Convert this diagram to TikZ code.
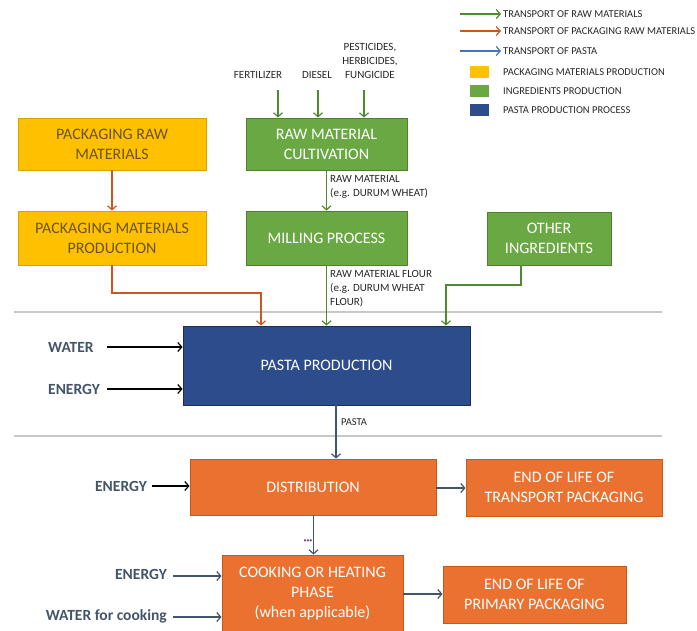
\documentclass[tikz,border=0pt]{standalone}
\usepackage{fontspec}
\setmainfont{Carlito}
\usepackage{xcolor}
\usetikzlibrary{arrows.meta,positioning,calc}

\definecolor{amber}{HTML}{FFC000}
\definecolor{amberline}{HTML}{D9A300}
\definecolor{ambertext}{HTML}{6B5420}
\definecolor{leaf}{HTML}{6AA843}
\definecolor{leafline}{HTML}{4E8030}
\definecolor{leafarrow}{HTML}{4E8A2E}
\definecolor{navy}{HTML}{2C4C8C}
\definecolor{navyline}{HTML}{1B2E55}
\definecolor{carrot}{HTML}{EA7130}
\definecolor{carrotline}{HTML}{C55A1B}
\definecolor{rust}{HTML}{C9571E}
\definecolor{slate}{HTML}{44546A}
\definecolor{pastablue}{HTML}{4472C4}
\definecolor{plum}{HTML}{7030A0}

\begin{document}
\begin{tikzpicture}[x=1pt, y=-1pt,
    box/.style={draw, line width=0.9pt, align=center, inner sep=2pt, font=\fontsize{16}{20}\selectfont},
    pack/.style={box, fill=amber, draw=amberline, text=ambertext},
    crop/.style={box, fill=leaf, draw=leafline, text=white},
    plant/.style={box, fill=navy, draw=navyline, text=white},
    life/.style={box, fill=carrot, draw=carrotline, text=white},
    small/.style={font=\fontsize{10.5}{14}\selectfont, text=black!85, align=left, inner sep=0pt},
    note/.style={small, font=\fontsize{11}{14}\selectfont},
    inlabel/.style={font=\bfseries\fontsize{15.5}{18}\selectfont, text=slate, inner sep=0pt},
    tip/.style={-{Straight Barb[length=4pt,width=9pt,line width=1.2pt]}, line width=1.4pt},
    greenflow/.style={tip, draw=leafarrow},
    orangeflow/.style={tip, draw=rust},
    darkflow/.style={tip, draw=slate},
    blackflow/.style={tip, draw=black}]
    \useasboundingbox (0,0) rectangle (697,630);

    % legend
    \foreach \y/\col/\txt in {14/leafarrow/TRANSPORT OF RAW MATERIALS,
                              31/rust/TRANSPORT OF PACKAGING RAW MATERIALS,
                              51/pastablue/TRANSPORT OF PASTA} {
        \draw[tip, draw=\col] (460,\y) -- (501,\y);
        \node[small, anchor=west] at (503,\y) {\txt};
    }
    \foreach \y/\col/\txt in {72/amber/PACKAGING MATERIALS PRODUCTION,
                              91/leaf/INGREDIENTS PRODUCTION,
                              110/navy/PASTA PRODUCTION PROCESS} {
        \fill[\col] (470,\y-6) rectangle (489,\y+6);
        \node[small, anchor=west] at (503,\y) {\txt};
    }

    % separators
    \draw[black!22, line width=2.5pt] (14,312) -- (662,312);
    \draw[black!22, line width=2.5pt] (14,436) -- (662,436);

    % boxes
    \node[pack, minimum width=188pt, minimum height=52pt] (pkgraw) at (112,144) {PACKAGING RAW\\MATERIALS};
    \node[pack, minimum width=188pt, minimum height=54pt] (pkgprod) at (112,238) {PACKAGING MATERIALS\\PRODUCTION};
    \node[crop, minimum width=161pt, minimum height=52pt] (cult) at (326.5,144) {RAW MATERIAL\\CULTIVATION};
    \node[crop, minimum width=161pt, minimum height=54pt] (mill) at (326.5,238) {MILLING PROCESS};
    \node[crop, minimum width=124pt, minimum height=53pt] (other) at (549,238.5) {OTHER\\INGREDIENTS};
    \node[plant, minimum width=287pt, minimum height=79pt] (pasta) at (326.5,365.5) {PASTA PRODUCTION};
    \node[life, minimum width=246pt, minimum height=56pt] (distr) at (313,487) {DISTRIBUTION};
    \node[life, minimum width=196pt, minimum height=57pt] (eolt) at (564,487.5) {END OF LIFE OF\\TRANSPORT PACKAGING};
    \node[life, minimum width=181pt, minimum height=78pt] (cook) at (312.5,594) {COOKING OR HEATING\\PHASE\\(when applicable)};
    \node[life, minimum width=183pt, minimum height=57pt] (eolp) at (534.5,594.5) {END OF LIFE OF\\PRIMARY PACKAGING};

    % cultivation inputs
    \node[note, anchor=base] (fert) at (258,78) {FERTILIZER};
    \node[note, anchor=base] (diesel) at (317,78) {DIESEL};
    \node[note, anchor=base, align=center] (pest) at (370,78) {PESTICIDES,\\HERBICIDES,\\FUNGICIDE};
    \draw[greenflow] (278,90) -- (278,0 |- cult.north);
    \draw[greenflow] (318,90) -- (318,0 |- cult.north);
    \draw[greenflow] (364,90) -- (364,0 |- cult.north);

    % raw material flows
    \draw[greenflow] (cult.south) -- (mill.north);
    \node[note, anchor=north west] (rawlbl) at (330,175) {RAW MATERIAL\\(e.g. DURUM WHEAT)};
    \draw[greenflow] (mill.south) -- (mill.south |- pasta.north);
    \node[note, anchor=north west] (flourlbl) at (330,270) {RAW MATERIAL FLOUR\\(e.g. DURUM WHEAT\\FLOUR)};
    \draw[greenflow] (521,265) |- (446,285) -- (446,0 |- pasta.north);

    % packaging flows
    \draw[orangeflow] (pkgraw.south) -- (pkgprod.north);
    \draw[orangeflow] (pkgprod.south) |- (261,293) -- (261,0 |- pasta.north);

    % pasta production inputs
    \node[inlabel, anchor=west] (water1) at (48,347) {WATER};
    \node[inlabel, anchor=west] (energy1) at (48,389) {ENERGY};
    \draw[blackflow] (107,347) -- (pasta.west |- water1);
    \draw[blackflow] (107,389) -- (pasta.west |- energy1);
    \draw[darkflow] (pasta.south -| 336,0) -- (336,0 |- distr.north);
    \node[small, anchor=west] (pastalbl) at (341,422) {PASTA};

    % distribution and use
    \node[inlabel, anchor=east] (energy2) at (147,486) {ENERGY};
    \draw[blackflow] (152,486) -- (distr.west |- energy2);
    \draw[darkflow] (distr.east |- 0,488) -- (eolt.west |- 0,488);
    \draw[darkflow] (313.5,515) -- (313.5,0 |- cook.north);
    \node[font=\fontsize{6}{6}\selectfont, text=plum, inner sep=0pt] (dots) at (308,541) {•••};
    \node[inlabel, anchor=east] (energy3) at (167,574) {ENERGY};
    \node[inlabel, anchor=east] (water2) at (167,616) {WATER for cooking};
    \draw[darkflow] (173,576) -- (cook.west |- 0,576);
    \draw[darkflow] (173,617) -- (cook.west |- 0,617);
    \draw[darkflow] (cook.east |- 0,594) -- (eolp.west |- 0,594);
\end{tikzpicture}
\end{document}
